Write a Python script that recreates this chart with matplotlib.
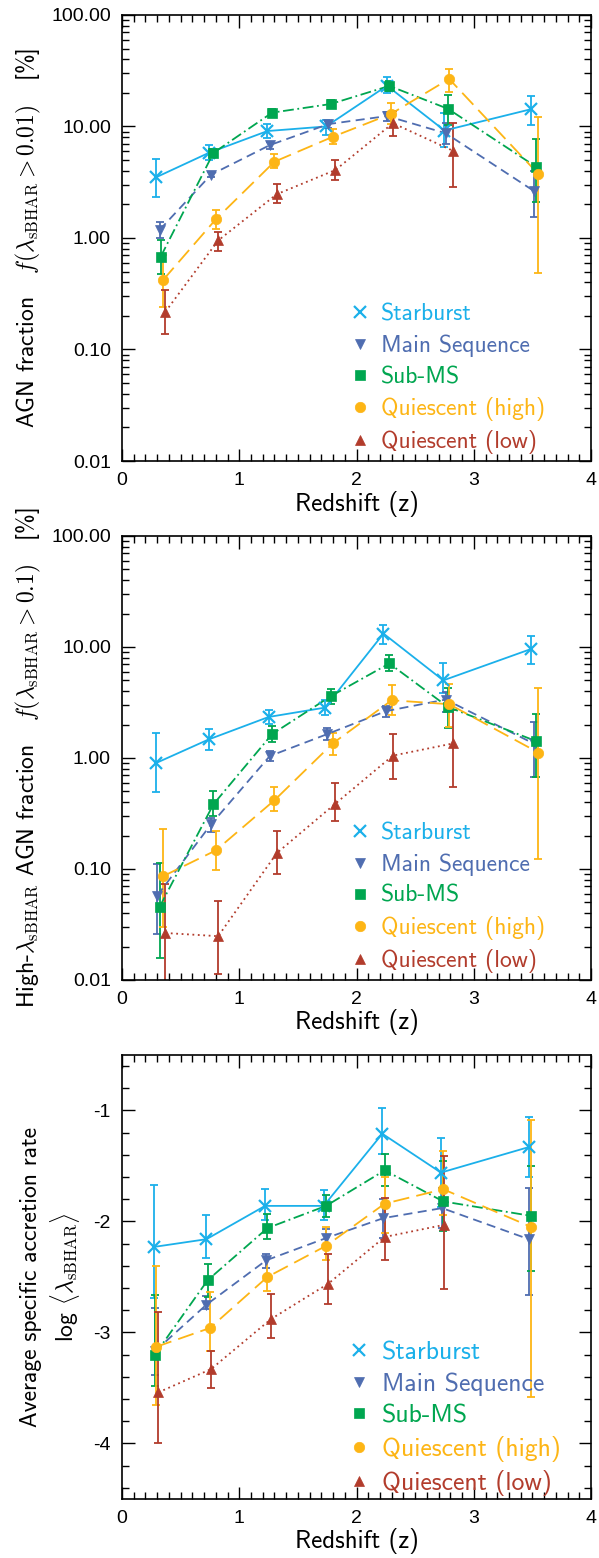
import matplotlib
matplotlib.use("Agg")
import matplotlib.pyplot as plt
from matplotlib.lines import Line2D
from matplotlib.ticker import FixedLocator, MultipleLocator, LogLocator, NullFormatter

plt.rcParams['mathtext.fontset'] = 'cm'
plt.rcParams['axes.unicode_minus'] = False

# ---------------- data ----------------
classes = ["Starburst", "Main Sequence", "Sub-MS", "Quiescent (high)", "Quiescent (low)"]
colors = ["#1BB0EA", "#4F6DB0", "#00A650", "#FDB515", "#B23C2C"]
markers = ["x", "v", "s", "o", "^"]

# Panel 1: AGN fraction f(lambda > 0.01) [%]
p1_x_sb = [0.29, 0.74, 1.24, 1.74, 2.26, 2.75, 3.49]
p1_y_sb = [3.5, 5.8, 9.1, 10.0, 23.2, 9.2, 14.3]
p1_hi_sb = [5.1, 6.8, 10.5, 11.4, 28.0, 13.1, 18.8]
p1_lo_sb = [2.35, 5.0, 7.9, 8.4, 19.9, 6.6, 10.4]

p1_x_ms = [0.32, 0.76, 1.26, 1.76, 2.26, 2.76, 3.51]
p1_y_ms = [1.18, 3.7, 6.8, 10.5, 12.4, 8.7, 2.65]
p1_hi_ms = [1.38, 3.9, 7.3, 11.3, 13.5, 10.8, 4.0]
p1_lo_ms = [1.0, 3.5, 6.3, 9.7, 11.3, 7.0, 1.55]

p1_x_sub = [0.33, 0.78, 1.28, 1.78, 2.28, 2.78, 3.53]
p1_y_sub = [0.68, 5.8, 13.3, 15.9, 23.1, 14.4, 4.36]
p1_hi_sub = [0.95, 6.3, 14.3, 17.3, 25.5, 19.1, 7.8]
p1_lo_sub = [0.48, 5.3, 12.3, 14.6, 21.0, 10.3, 2.1]

p1_x_qh = [0.35, 0.80, 1.30, 1.80, 2.29, 2.79, 3.55]
p1_y_qh = [0.42, 1.47, 4.83, 8.1, 12.9, 26.7, 3.75]
p1_hi_qh = [0.70, 1.8, 5.7, 9.5, 16.2, 33.0, 12.2]
p1_lo_qh = [0.24, 1.2, 4.2, 7.0, 10.5, 20.5, 0.49]

p1_x_ql = [0.37, 0.82, 1.32, 1.82, 2.31, 2.82]
p1_y_ql = [0.218, 0.95, 2.47, 4.07, 10.7, 6.07]
p1_hi_ql = [0.34, 1.14, 3.05, 5.0, 13.8, 10.7]
p1_lo_ql = [0.138, 0.77, 2.06, 3.3, 8.2, 2.85]

# Panel 2: high-lambda AGN fraction f(lambda > 0.1) [%]
p2_x_sb = [0.29, 0.74, 1.25, 1.73, 2.23, 2.74, 3.49]
p2_y_sb = [0.90, 1.47, 2.34, 2.84, 13.2, 5.0, 9.6]
p2_hi_sb = [1.68, 1.84, 2.73, 3.31, 15.7, 7.2, 12.5]
p2_lo_sb = [0.49, 1.19, 2.04, 2.46, 10.6, 3.83, 7.0]

p2_x_ms = [0.30, 0.76, 1.26, 1.75, 2.25, 2.76, 3.51]
p2_y_ms = [0.0575, 0.253, 1.04, 1.64, 2.64, 3.36, 1.35]
p2_hi_ms = [0.11, 0.29, 1.15, 1.85, 2.95, 3.9, 2.1]
p2_lo_ms = [0.026, 0.215, 0.93, 1.45, 2.35, 2.6, 0.68]

p2_x_sub = [0.32, 0.78, 1.28, 1.78, 2.28, 2.78, 3.53]
p2_y_sub = [0.0455, 0.383, 1.64, 3.6, 7.1, 2.88, 1.42]
p2_hi_sub = [0.113, 0.5, 1.93, 4.19, 8.4, 4.25, 2.5]
p2_lo_sub = [0.0158, 0.3, 1.38, 3.09, 6.1, 1.85, 0.68]

p2_x_qh = [0.35, 0.80, 1.30, 1.80, 2.30, 2.79, 3.55]
p2_y_qh = [0.086, 0.147, 0.416, 1.36, 3.31, 3.05, 1.12]
p2_hi_qh = [0.23, 0.22, 0.55, 1.68, 4.5, 4.6, 4.3]
p2_lo_qh = [0.03, 0.098, 0.33, 1.06, 2.43, 1.9, 0.124]

p2_x_ql = [0.37, 0.82, 1.32, 1.82, 2.31, 2.82]
p2_y_ql = [0.0265, 0.0248, 0.139, 0.388, 1.05, 1.35]
p2_hi_ql = [0.0735, 0.051, 0.22, 0.59, 1.65, 2.7]
p2_lo_ql = [0.004, 0.0114, 0.091, 0.27, 0.65, 0.55]

# Panel 3: log <lambda_sBHAR>
p3_x_sb = [0.27, 0.72, 1.22, 1.72, 2.22, 2.72, 3.47]
p3_y_sb = [-2.23, -2.16, -1.86, -1.86, -1.21, -1.56, -1.33]
p3_hi_sb = [-1.67, -1.94, -1.71, -1.72, -0.98, -1.25, -1.06]
p3_lo_sb = [-2.69, -2.33, -1.99, -1.99, -1.39, -1.87, -1.60]

p3_x_ms = [0.28, 0.72, 1.23, 1.74, 2.23, 2.73, 3.47]
p3_y_ms = [-3.17, -2.75, -2.35, -2.15, -1.97, -1.88, -2.16]
p3_hi_ms = [-2.78, -2.67, -2.29, -2.07, -1.80, -1.70, -1.70]
p3_lo_ms = [-3.38, -2.79, -2.42, -2.23, -2.15, -2.06, -2.66]

p3_x_sub = [0.28, 0.73, 1.24, 1.74, 2.24, 2.74, 3.49]
p3_y_sub = [-3.20, -2.53, -2.06, -1.86, -1.54, -1.82, -1.95]
p3_hi_sub = [-2.66, -2.38, -1.93, -1.76, -1.39, -1.46, -1.50]
p3_lo_sub = [-3.48, -2.68, -2.16, -1.96, -1.68, -2.09, -2.45]

p3_x_qh = [0.29, 0.75, 1.24, 1.74, 2.24, 2.74, 3.49]
p3_y_qh = [-3.13, -2.96, -2.50, -2.22, -1.84, -1.71, -2.05]
p3_hi_qh = [-2.40, -2.64, -2.32, -2.05, -1.60, -1.37, -1.09]
p3_lo_qh = [-3.65, -3.17, -2.63, -2.35, -2.10, -1.94, -3.58]

p3_x_ql = [0.31, 0.76, 1.27, 1.76, 2.24, 2.75]
p3_y_ql = [-3.54, -3.33, -2.88, -2.56, -2.14, -2.03]
p3_hi_ql = [-2.82, -3.17, -2.65, -2.29, -1.79, -1.41]
p3_lo_ql = [-4.00, -3.50, -3.05, -2.74, -2.35, -2.61]

panel1 = [(p1_x_sb, p1_y_sb, p1_lo_sb, p1_hi_sb), (p1_x_ms, p1_y_ms, p1_lo_ms, p1_hi_ms),
          (p1_x_sub, p1_y_sub, p1_lo_sub, p1_hi_sub), (p1_x_qh, p1_y_qh, p1_lo_qh, p1_hi_qh),
          (p1_x_ql, p1_y_ql, p1_lo_ql, p1_hi_ql)]
panel2 = [(p2_x_sb, p2_y_sb, p2_lo_sb, p2_hi_sb), (p2_x_ms, p2_y_ms, p2_lo_ms, p2_hi_ms),
          (p2_x_sub, p2_y_sub, p2_lo_sub, p2_hi_sub), (p2_x_qh, p2_y_qh, p2_lo_qh, p2_hi_qh),
          (p2_x_ql, p2_y_ql, p2_lo_ql, p2_hi_ql)]
panel3 = [(p3_x_sb, p3_y_sb, p3_lo_sb, p3_hi_sb), (p3_x_ms, p3_y_ms, p3_lo_ms, p3_hi_ms),
          (p3_x_sub, p3_y_sub, p3_lo_sub, p3_hi_sub), (p3_x_qh, p3_y_qh, p3_lo_qh, p3_hi_qh),
          (p3_x_ql, p3_y_ql, p3_lo_ql, p3_hi_ql)]

log_ticks = [0.01, 0.1, 1, 10, 100]
log_tick_labels = ["0.01", "0.10", "1.00", "10.00", "100.00"]
lin_ticks = [-4, -3, -2, -1]
lin_tick_labels = ["-4", "-3", "-2", "-1"]
x_ticks = [0, 1, 2, 3, 4]

# ---------------- style ----------------
linestyles = ["-", (0, (5, 3)), (0, (6, 2, 1, 2)), (0, (9, 4)), (0, (1, 2))]
msizes = [9, 7, 7, 7.5, 7]
LABEL_FONT = "cmss10"
TICK_FONT = "Liberation Sans"

fig = plt.figure(figsize=(5.99, 15.58), dpi=100)
ax1 = fig.add_axes([0.2037, 0.7041, 0.783, 0.2863])
ax2 = fig.add_axes([0.2037, 0.3710, 0.783, 0.2850])
ax3 = fig.add_axes([0.2037, 0.0379, 0.783, 0.2850])


def draw(ax, panel, legsize, bx, by, lsp):
    for (x, y, lo, hi), c, m, ls, ms in zip(panel, colors, markers, linestyles, msizes):
        yerr = [[yi - l for yi, l in zip(y, lo)], [h - yi for yi, h in zip(y, hi)]]
        ax.errorbar(x, y, yerr=yerr, fmt="none", ecolor=c, elinewidth=1.3,
                    capsize=3, capthick=1.3, zorder=2)
        ax.plot(x, y, color=c, linestyle=ls, linewidth=1.3, zorder=3)
        ax.plot(x, y, color=c, linestyle="none", marker=m, markersize=ms,
                markeredgewidth=1.6 if m == "x" else 0.5, zorder=4)
    handles = [Line2D([], [], color=c, marker=m, linestyle="none",
                      markersize=ms, markeredgewidth=1.6 if m == "x" else 0.5)
               for c, m, ms in zip(colors, markers, msizes)]
    ax.legend(handles, classes, loc="lower left", bbox_to_anchor=(bx, by),
              frameon=False, labelcolor=colors, handlelength=1.0,
              handletextpad=0.4, labelspacing=lsp,
              prop={"family": LABEL_FONT, "size": legsize})


def style(ax):
    ax.set_xlim(0, 4)
    ax.set_xticks(x_ticks)
    ax.xaxis.set_minor_locator(MultipleLocator(0.1))
    ax.tick_params(which="both", direction="in", top=True, right=True, width=1.0)
    ax.tick_params(which="major", length=9, labelsize=14, pad=8)
    ax.tick_params(which="minor", length=5)
    for lab in ax.get_xticklabels() + ax.get_yticklabels():
        lab.set_fontfamily(TICK_FONT)
    for s in ax.spines.values():
        s.set_linewidth(1.2)
    ax.set_xlabel("Redshift (z)", fontfamily=LABEL_FONT, fontsize=18, labelpad=1)


for ax, panel in [(ax1, panel1), (ax2, panel2)]:
    ax.set_yscale("log")
    ax.set_ylim(0.01, 100)
    draw(ax, panel, 17, 0.436, -0.032, 0.38)
    ax.yaxis.set_major_locator(FixedLocator(log_ticks))
    ax.set_yticklabels(log_tick_labels)
    ax.yaxis.set_minor_locator(LogLocator(base=10, subs=range(2, 10)))
    ax.yaxis.set_minor_formatter(NullFormatter())
    style(ax)

draw(ax3, panel3, 18.5, 0.428, -0.045, 0.32)
ax3.set_ylim(-4.5, -0.5)
ax3.set_yticks(lin_ticks)
ax3.set_yticklabels(lin_tick_labels)
ax3.yaxis.set_minor_locator(MultipleLocator(0.2))
style(ax3)

ax1.set_ylabel(r"AGN fraction   $f(\lambda_{\rm sBHAR} > 0.01)$   [%]",
               fontfamily=LABEL_FONT, fontsize=17, labelpad=6)
ax2.set_ylabel(r"High-$\lambda_{\rm sBHAR}$ AGN fraction   $f(\lambda_{\rm sBHAR} > 0.1)$   [%]",
               fontfamily=LABEL_FONT, fontsize=17, labelpad=6)
ax3.set_ylabel("Average specific accretion rate\n" + r"log $\langle\lambda_{\rm sBHAR}\rangle$",
               fontfamily=LABEL_FONT, fontsize=17, labelpad=8, linespacing=1.25)

fig.savefig("out.png", dpi=100)
